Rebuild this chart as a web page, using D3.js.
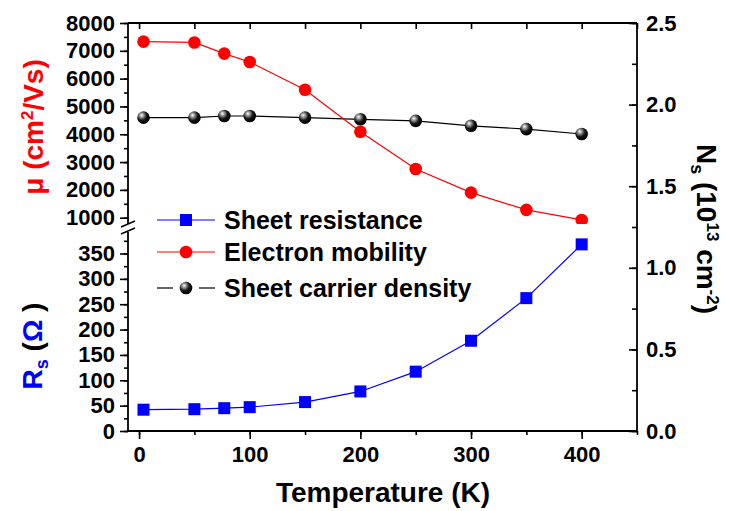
<!DOCTYPE html>
<html>
<head>
<meta charset="utf-8">
<script src="https://cdn.jsdelivr.net/npm/d3@7.9.0/dist/d3.min.js"></script>
<style>
  body { margin: 0; background: #fff; }
  svg { font-family: "Liberation Sans", Arial, sans-serif; font-weight: bold; }
</style>
</head>
<body>
<svg id="chart" width="729" height="511"></svg>
<script>
// data
const temps = [4, 50, 77, 100, 150, 200, 250, 300, 350, 400];
const sheetRes = [42, 43, 45, 47, 57, 78, 117, 178, 262, 368];      // ohm
const mobility = [7330, 7300, 6900, 6600, 5600, 4090, 2750, 1900, 1280, 920]; // cm2/Vs
const density = [1.92, 1.92, 1.93, 1.93, 1.92, 1.91, 1.90, 1.87, 1.85, 1.82]; // 1e13 cm-2

const xTicks = [0, 100, 200, 300, 400];
const muTicks = [1000, 2000, 3000, 4000, 5000, 6000, 7000, 8000];
const rsTicks = [0, 50, 100, 150, 200, 250, 300, 350];
const nsTicks = [0.0, 0.5, 1.0, 1.5, 2.0, 2.5];
const legendLabels = ["Sheet resistance", "Electron mobility", "Sheet carrier density"];

// frame
const L = 128, R = 637, T = 23, B = 431;
const breakTop = 224, breakBot = 232;
const tickFont = 22;

const svg = d3.select("#chart");

const x = d3.scaleLinear().domain([-10, 450]).range([L, R]);
const yMu = d3.scaleLinear().domain([1000, 8000]).range([217.7, T]);
const yRs = d3.scaleLinear().domain([0, 350]).range([B, 253.5]);
const yNs = d3.scaleLinear().domain([0, 2.5]).range([B, T]);

// clip for the top (mobility) segment
const defs = svg.append("defs");
defs.append("clipPath").attr("id", "clipTop")
  .append("rect").attr("x", L - 10).attr("y", T - 10).attr("width", R - L + 20).attr("height", breakTop - T + 10);

// sphere gradient for carrier density markers
const grad = defs.append("radialGradient").attr("id", "ball")
  .attr("cx", "38%").attr("cy", "35%").attr("r", "65%").attr("fx", "35%").attr("fy", "30%");
grad.append("stop").attr("offset", "0%").attr("stop-color", "#ffffff");
grad.append("stop").attr("offset", "25%").attr("stop-color", "#9a9a9a");
grad.append("stop").attr("offset", "60%").attr("stop-color", "#151515");
grad.append("stop").attr("offset", "100%").attr("stop-color", "#000000");

function styleAxis(g, size) {
  g.select(".domain").remove();
  g.selectAll(".tick line").attr("stroke", "#000").attr("stroke-width", 1.6);
  g.selectAll("text").attr("font-size", size).attr("font-weight", "bold").attr("fill", "#000")
    .attr("font-family", "'Liberation Sans', Arial, sans-serif");
}

// bottom axis
svg.append("g").attr("transform", `translate(0,${B})`)
  .call(d3.axisBottom(x).tickValues(d3.range(0, 451, 50)).tickSize(4).tickFormat(""))
  .call(g => styleAxis(g, tickFont));
svg.append("g").attr("transform", `translate(0,${B})`)
  .call(d3.axisBottom(x).tickValues(xTicks).tickSize(8).tickPadding(7).tickFormat(d3.format("d")))
  .call(g => styleAxis(g, tickFont));

// top axis (ticks inward)
svg.append("g").attr("transform", `translate(0,${T})`)
  .call(d3.axisTop(x).tickValues(d3.range(0, 451, 50)).tickSize(-6).tickFormat(""))
  .call(g => styleAxis(g, tickFont));

// left top segment (mobility)
svg.append("g").attr("transform", `translate(${L},0)`)
  .call(d3.axisLeft(yMu).tickValues(d3.range(1000, 8001, 500)).tickSize(4).tickFormat(""))
  .call(g => styleAxis(g, tickFont));
svg.append("g").attr("transform", `translate(${L},0)`)
  .call(d3.axisLeft(yMu).tickValues(muTicks).tickSize(8).tickPadding(5).tickFormat(d3.format("d")))
  .call(g => styleAxis(g, tickFont));

// left bottom segment (sheet resistance)
svg.append("g").attr("transform", `translate(${L},0)`)
  .call(d3.axisLeft(yRs).tickValues(d3.range(0, 376, 25)).tickSize(4).tickFormat(""))
  .call(g => styleAxis(g, tickFont));
svg.append("g").attr("transform", `translate(${L},0)`)
  .call(d3.axisLeft(yRs).tickValues(rsTicks).tickSize(8).tickPadding(5).tickFormat(d3.format("d")))
  .call(g => styleAxis(g, tickFont));

// right axis (carrier density), ticks inward
svg.append("g").attr("transform", `translate(${R},0)`)
  .call(d3.axisRight(yNs).tickValues(d3.range(0, 2.51, 0.25)).tickSize(-5).tickFormat(""))
  .call(g => styleAxis(g, tickFont));
svg.append("g").attr("transform", `translate(${R},0)`)
  .call(d3.axisRight(yNs).tickValues(nsTicks).tickSize(-8).tickPadding(9).tickFormat(d3.format(".1f")))
  .call(g => styleAxis(g, tickFont));

// frame lines
const frame = svg.append("g").attr("stroke", "#000").attr("stroke-width", 1.8).attr("fill", "none");
frame.append("line").attr("x1", L).attr("x2", R).attr("y1", T).attr("y2", T);
frame.append("line").attr("x1", L).attr("x2", R).attr("y1", B).attr("y2", B);
frame.append("line").attr("x1", R).attr("x2", R).attr("y1", T).attr("y2", B);
frame.append("line").attr("x1", L).attr("x2", L).attr("y1", T).attr("y2", breakTop);
frame.append("line").attr("x1", L).attr("x2", L).attr("y1", breakBot).attr("y2", B);
// break marks
frame.append("line").attr("x1", L - 7).attr("x2", L + 7).attr("y1", breakTop + 3).attr("y2", breakTop - 3).attr("stroke-width", 1.4);
frame.append("line").attr("x1", L - 7).attr("x2", L + 7).attr("y1", breakBot + 2).attr("y2", breakBot - 4).attr("stroke-width", 1.4);

// series
const rsData = temps.map((t, i) => [t, sheetRes[i]]);
const muData = temps.map((t, i) => [t, mobility[i]]);
const nsData = temps.map((t, i) => [t, density[i]]);

// sheet resistance (blue squares)
svg.append("path").datum(rsData)
  .attr("fill", "none").attr("stroke", "#0000ff").attr("stroke-width", 1.2)
  .attr("d", d3.line().x(d => x(d[0])).y(d => yRs(d[1])));
svg.append("g").selectAll("rect").data(rsData).join("rect")
  .attr("x", d => x(d[0]) - 6).attr("y", d => yRs(d[1]) - 6)
  .attr("width", 12).attr("height", 12).attr("fill", "#0000ff");

// carrier density (black spheres)
const nsG = svg.append("g").attr("clip-path", "url(#clipTop)");
nsG.append("path").datum(nsData)
  .attr("fill", "none").attr("stroke", "#000").attr("stroke-width", 1.2)
  .attr("d", d3.line().x(d => x(d[0])).y(d => yNs(d[1])));
nsG.selectAll("circle").data(nsData).join("circle")
  .attr("cx", d => x(d[0])).attr("cy", d => yNs(d[1])).attr("r", 6.3)
  .attr("fill", "url(#ball)");

// mobility (red circles), clipped at the break
const muG = svg.append("g").attr("clip-path", "url(#clipTop)");
muG.append("path").datum(muData)
  .attr("fill", "none").attr("stroke", "#ff0000").attr("stroke-width", 1.2)
  .attr("d", d3.line().x(d => x(d[0])).y(d => yMu(d[1])));
muG.selectAll("circle").data(muData).join("circle")
  .attr("cx", d => x(d[0])).attr("cy", d => yMu(d[1])).attr("r", 6.3)
  .attr("fill", "#ff0000");

// legend
const legY = [220, 252, 288];
const leg = svg.append("g");
leg.append("line").attr("x1", 157).attr("x2", 215).attr("y1", legY[0]).attr("y2", legY[0]).attr("stroke", "#0000ff").attr("stroke-width", 1.2);
leg.append("rect").attr("x", 180).attr("y", legY[0] - 6).attr("width", 12).attr("height", 12).attr("fill", "#0000ff");
leg.append("line").attr("x1", 157).attr("x2", 215).attr("y1", legY[1]).attr("y2", legY[1]).attr("stroke", "#ff0000").attr("stroke-width", 1.2);
leg.append("circle").attr("cx", 186).attr("cy", legY[1]).attr("r", 6.3).attr("fill", "#ff0000");
leg.append("line").attr("x1", 157).attr("x2", 173).attr("y1", legY[2]).attr("y2", legY[2]).attr("stroke", "#000").attr("stroke-width", 1.2);
leg.append("line").attr("x1", 199).attr("x2", 215).attr("y1", legY[2]).attr("y2", legY[2]).attr("stroke", "#000").attr("stroke-width", 1.2);
leg.append("circle").attr("cx", 186).attr("cy", legY[2]).attr("r", 6.3).attr("fill", "url(#ball)");
leg.selectAll("text").data(legendLabels).join("text")
  .attr("x", 224).attr("y", (d, i) => legY[i] + 8.5)
  .attr("font-size", 25).attr("fill", "#000").text(d => d);

// axis titles
svg.append("text").attr("x", 383).attr("y", 502).attr("text-anchor", "middle")
  .attr("font-size", 28).attr("fill", "#000").text("Temperature (K)");

const muTitle = svg.append("text").attr("transform", "translate(43,127) rotate(-90)")
  .attr("text-anchor", "middle").attr("font-size", 28).attr("fill", "#ff0000");
muTitle.append("tspan").text("μ (cm");
muTitle.append("tspan").attr("dy", -10).attr("font-size", 17).text("2");
muTitle.append("tspan").attr("dy", 10).text("/Vs)");

const rsTitle = svg.append("text").attr("transform", "translate(42,346) rotate(-90)")
  .attr("text-anchor", "middle").attr("font-size", 28).attr("fill", "#0000ff");
rsTitle.append("tspan").text("R");
rsTitle.append("tspan").attr("dy", 6).attr("font-size", 18).text("s");
rsTitle.append("tspan").attr("dy", -6).attr("fill", "#000").text(" (");
rsTitle.append("tspan").text("Ω");
rsTitle.append("tspan").attr("fill", "#000").text(" )");

const nsTitle = svg.append("text").attr("transform", "translate(697,229) rotate(90)")
  .attr("text-anchor", "middle").attr("font-size", 28).attr("fill", "#000");
nsTitle.append("tspan").text("N");
nsTitle.append("tspan").attr("dy", 6).attr("font-size", 18).text("s");
nsTitle.append("tspan").attr("dy", -6).text(" (10");
nsTitle.append("tspan").attr("dy", -10).attr("font-size", 17).text("13");
nsTitle.append("tspan").attr("dy", 10).text(" cm");
nsTitle.append("tspan").attr("dy", -10).attr("font-size", 17).text("-2");
nsTitle.append("tspan").attr("dy", 10).text(")");
</script>
</body>
</html>
